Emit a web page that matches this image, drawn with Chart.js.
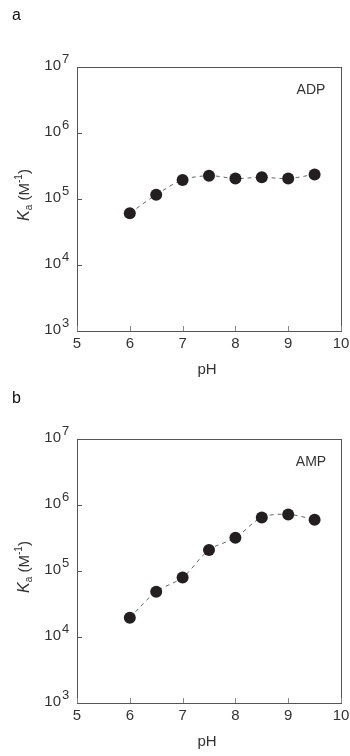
<!DOCTYPE html>
<html>
<head>
<meta charset="utf-8">
<script src="https://cdn.jsdelivr.net/npm/chart.js@4/dist/chart.umd.min.js"></script>
<style>
  html, body { margin: 0; padding: 0; background: #fff; }
  body { width: 350px; height: 756px; position: relative; overflow: hidden; }
  .panel { position: absolute; left: 0; width: 350px; height: 378px; }
  #panelA { top: 0; }
  #panelB { top: 378px; }
</style>
</head>
<body>
<div class="panel" id="panelA"><canvas id="chartA" width="350" height="378"></canvas></div>
<div class="panel" id="panelB"><canvas id="chartB" width="350" height="378"></canvas></div>
<script>
// pH values at which Ka was measured
const phValues = [6, 6.5, 7, 7.5, 8, 8.5, 9, 9.5];
// Association constants Ka (M^-1)
const adpKa = [6.1e4, 1.16e5, 1.94e5, 2.25e5, 2.05e5, 2.13e5, 2.05e5, 2.36e5];
const ampKa = [1.96e4, 4.85e4, 8.0e4, 2.08e5, 3.2e5, 6.45e5, 7.2e5, 6.0e5];
// Axis ticks
const xTicks = [5, 6, 7, 8, 9, 10];
const yExponents = [3, 4, 5, 6, 7];

const FONT = '"Liberation Sans", Arial, Helvetica, sans-serif';
const TEXT = '#333';
const AXIS = '#555';

// Box frame with inward tick marks, tick labels and axis titles
const framePlugin = {
  id: 'frame',
  beforeDatasetsDraw(chart) {
    const ctx = chart.ctx;
    const a = chart.chartArea;
    const xs = chart.scales.x, ys = chart.scales.y;
    ctx.save();
    ctx.strokeStyle = AXIS;
    ctx.lineWidth = 1;
    ctx.strokeRect(Math.round(a.left) + 0.5, Math.round(a.top) + 0.5,
                   Math.round(a.right - a.left), Math.round(a.bottom - a.top));
    ctx.strokeStyle = '#888';
    xTicks.forEach(v => {
      const px = Math.round(xs.getPixelForValue(v)) + 0.5;
      ctx.beginPath();
      ctx.moveTo(px, a.bottom);
      ctx.lineTo(px, a.bottom - 5);
      ctx.stroke();
    });
    ctx.strokeStyle = AXIS;
    yExponents.forEach(e => {
      const py = Math.round(ys.getPixelForValue(Math.pow(10, e))) + 0.5;
      ctx.beginPath();
      ctx.moveTo(a.left, py);
      ctx.lineTo(a.left + 5, py);
      ctx.stroke();
    });
    ctx.restore();
  },
  afterDraw(chart, args, opts) {
    const ctx = chart.ctx;
    const a = chart.chartArea;
    const xs = chart.scales.x, ys = chart.scales.y;
    ctx.save();
    ctx.fillStyle = TEXT;

    // x tick labels
    ctx.font = '15px ' + FONT;
    ctx.textAlign = 'center';
    ctx.textBaseline = 'middle';
    xTicks.forEach(v => {
      ctx.fillText(String(v), xs.getPixelForValue(v), a.bottom + 13);
    });

    // y tick labels: 10 with superscript exponent
    yExponents.forEach(e => {
      const py = ys.getPixelForValue(Math.pow(10, e));
      ctx.font = '15px ' + FONT;
      ctx.textAlign = 'right';
      ctx.textBaseline = 'middle';
      ctx.fillText('10', a.left - 16, py - 1);
      ctx.font = '13px ' + FONT;
      ctx.textAlign = 'left';
      ctx.fillText(String(e), a.left - 15, py - 8);
    });

    // x axis title
    ctx.font = '15px ' + FONT;
    ctx.textAlign = 'center';
    ctx.textBaseline = 'middle';
    ctx.fillText('pH', (a.left + a.right) / 2 - 2, a.bottom + 39);

    // y axis title: K_a (M^-1)
    ctx.save();
    ctx.translate(25, (a.top + a.bottom) / 2 - 4);
    ctx.rotate(-Math.PI / 2);
    const parts = [
      { t: 'K', f: 'italic 16px ' + FONT, dy: 0 },
      { t: 'a', f: '10px ' + FONT, dy: 4 },
      { t: ' (M', f: '15px ' + FONT, dy: 0 },
      { t: '-1', f: '10px ' + FONT, dy: -6 },
      { t: ')', f: '15px ' + FONT, dy: 0 }
    ];
    let total = 0;
    parts.forEach(p => { ctx.font = p.f; p.w = ctx.measureText(p.t).width; total += p.w; });
    let cx = -total / 2;
    ctx.textAlign = 'left';
    ctx.textBaseline = 'middle';
    parts.forEach(p => {
      ctx.font = p.f;
      ctx.fillText(p.t, cx, p.dy);
      cx += p.w;
    });
    ctx.restore();

    // compound name inside the plot
    ctx.font = '14px ' + FONT;
    ctx.textAlign = 'center';
    ctx.fillText(opts.name, a.right - 30, a.top + 23);

    // panel letter
    ctx.font = '16px ' + FONT;
    ctx.textAlign = 'left';
    ctx.fillStyle = '#111';
    ctx.fillText(opts.letter, 12, opts.letterY);
    ctx.restore();
  }
};

function makeChart(id, values, name, letter, letterY, padding) {
  return new Chart(document.getElementById(id), {
    type: 'scatter',
    data: {
      datasets: [{
        data: phValues.map((p, i) => ({ x: p, y: values[i] })),
        showLine: true,
        borderColor: '#666',
        borderWidth: 1,
        borderDash: [4, 4],
        tension: 0.35,
        pointRadius: 6,
        pointHoverRadius: 6,
        pointBackgroundColor: '#231f20',
        pointBorderWidth: 0
      }]
    },
    options: {
      responsive: false,
      animation: false,
      events: [],
      layout: { padding: padding },
      plugins: {
        legend: { display: false },
        tooltip: { enabled: false },
        frame: { name: name, letter: letter, letterY: letterY }
      },
      scales: {
        x: { type: 'linear', min: 5, max: 10, display: false },
        y: { type: 'logarithmic', min: 1e3, max: 1e7, display: false }
      }
    },
    plugins: [framePlugin]
  });
}

makeChart('chartA', adpKa, 'ADP', 'a', 16, { left: 77, right: 9, top: 67, bottom: 47 });
makeChart('chartB', ampKa, 'AMP', 'b', 21, { left: 77, right: 9, top: 61, bottom: 53 });
</script>
</body>
</html>
